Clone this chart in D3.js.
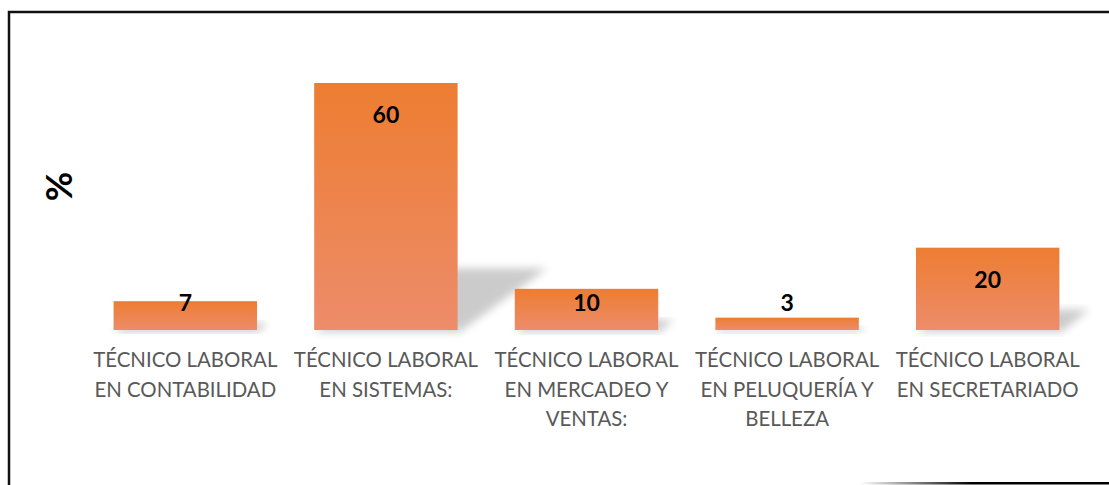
<!DOCTYPE html>
<html>
<head>
<meta charset="utf-8">
<script src="https://cdn.jsdelivr.net/npm/d3@7"></script>
<style>
  body { margin: 0; background: #fff; }
  svg { display: block; }
  .tick text { font-family: Lato, "Open Sans", sans-serif; font-size: 20.4px; fill: #595959; }
  .value-label { font-family: Lato, sans-serif; font-weight: bold; font-size: 23px; fill: #000; }
</style>
</head>
<body>
<div id="chart"></div>
<script>
// Data_____________________________________________________
const categories = [
    'TÉCNICO LABORAL EN CONTABILIDAD',
    'TÉCNICO LABORAL EN SISTEMAS:',
    'TÉCNICO LABORAL EN MERCADEO Y VENTAS:',
    'TÉCNICO LABORAL EN PELUQUERÍA Y BELLEZA',
    'TÉCNICO LABORAL EN SECRETARIADO'
];
const values = [7, 60, 10, 3, 20];
const axisTitle = '%';

// Sizes____________________________________________________
const width = 1109;
const height = 485;
const baseY = 330;

const svg = d3.select('#chart')
    .append('svg')
    .attr('width', width)
    .attr('height', height);

const defs = svg.append('defs');

const grad = defs.append('linearGradient')
    .attr('id', 'barFill')
    .attr('x1', 0).attr('y1', 0)
    .attr('x2', 0).attr('y2', 1);
grad.append('stop').attr('offset', '0%').attr('stop-color', '#ED7D31');
grad.append('stop').attr('offset', '100%').attr('stop-color', '#ED8C6B');

defs.append('filter')
    .attr('id', 'blur')
    .attr('x', '-20%').attr('y', '-20%')
    .attr('width', '140%').attr('height', '140%')
    .append('feGaussianBlur')
    .attr('stdDeviation', 4);

const lineGrad = defs.append('linearGradient')
    .attr('id', 'edgeFade')
    .attr('x1', 0).attr('y1', 0)
    .attr('x2', 1).attr('y2', 0);
lineGrad.append('stop').attr('offset', '0%').attr('stop-color', '#fff');
lineGrad.append('stop').attr('offset', '45%').attr('stop-color', '#000');
lineGrad.append('stop').attr('offset', '100%').attr('stop-color', '#000');

// Frame (cropped chart border)______________________________
svg.append('path')
    .attr('d', `M9,${height + 5} L9,12 L${width + 5},12`)
    .attr('fill', 'none')
    .attr('stroke', '#111')
    .attr('stroke-width', 2.5);

svg.append('rect')
    .attr('x', 860).attr('y', 482)
    .attr('width', width - 860).attr('height', 2.5)
    .attr('fill', 'url(#edgeFade)');

// Scales___________________________________________________
const x = d3.scaleBand()
    .domain(categories)
    .range([85, 1088])
    .paddingInner(0.285)
    .paddingOuter(0.1425);

const y = d3.scaleLinear()
    .domain([0, 60])
    .range([baseY, 83]);

// Perspective shadows behind bars___________________________
svg.append('g')
    .selectAll('path')
    .data(values)
    .enter()
    .append('path')
    .attr('d', (d, i) => {
        const x0 = x(categories[i]);
        const x1 = x0 + x.bandwidth();
        const h = (baseY - y(d)) * 0.25;
        const dx = h * 1.45;
        return `M${x0},${baseY + 2} L${x1 + 2},${baseY + 2} L${x1 + dx},${baseY - h} L${x0 + dx},${baseY - h} Z`;
    })
    .attr('fill', '#000')
    .attr('opacity', 0.2)
    .attr('filter', 'url(#blur)');

// Bars_____________________________________________________
svg.append('g')
    .selectAll('rect')
    .data(values)
    .enter()
    .append('rect')
    .attr('x', (d, i) => x(categories[i]))
    .attr('y', d => y(d))
    .attr('width', x.bandwidth())
    .attr('height', d => baseY - y(d))
    .attr('fill', 'url(#barFill)');

// Value labels (inside end, pushed up when the bar is short)
svg.append('g')
    .selectAll('text')
    .data(values)
    .enter()
    .append('text')
    .attr('class', 'value-label')
    .attr('x', (d, i) => x(categories[i]) + x.bandwidth() / 2)
    .attr('y', d => Math.min(y(d) + 31, baseY - 28))
    .attr('text-anchor', 'middle')
    .attr('dominant-baseline', 'central')
    .text(d => d);

// Category axis____________________________________________
const axis = svg.append('g')
    .attr('transform', `translate(0, ${baseY})`)
    .call(d3.axisBottom(x).tickSize(0).tickPadding(0));

axis.select('.domain').remove();

axis.selectAll('.tick text')
    .attr('y', 0)
    .attr('dy', null)
    .each(function (label) {
        const text = d3.select(this);
        const words = label.split(' ');
        text.text(null);
        let line = [];
        let tspan = text.append('tspan');
        words.forEach(w => {
            line.push(w);
            tspan.text(line.join(' '));
            if (tspan.node().getComputedTextLength() > 196 && line.length > 1) {
                line.pop();
                tspan.text(line.join(' '));
                line = [w];
                tspan = text.append('tspan').text(w);
            }
        });
        text.selectAll('tspan')
            .attr('x', 0)
            .attr('y', (d, i) => 37 + i * 29.5);
    });

// Axis title_______________________________________________
svg.append('text')
    .attr('transform', 'translate(57.5, 186.5) rotate(-90)')
    .attr('text-anchor', 'middle')
    .attr('dominant-baseline', 'central')
    .style('font-family', 'Lato, sans-serif')
    .style('font-weight', 'bold')
    .style('font-size', '36px')
    .text(axisTitle);
</script>
</body>
</html>
